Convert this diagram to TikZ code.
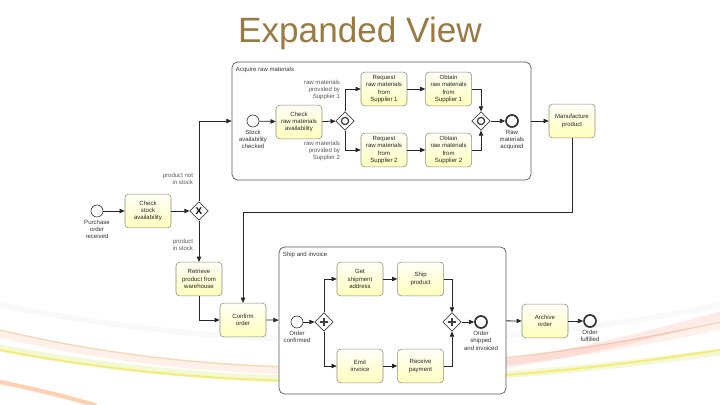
\documentclass[tikz,border=0pt]{standalone}
\usepackage{fontspec}
\setmainfont{Liberation Sans}
\usepackage{tikz}
\usetikzlibrary{arrows.meta,positioning,shapes.geometric}
\definecolor{titlegold}{HTML}{9A7A40}
\definecolor{taskline}{HTML}{8E8C78}
\tikzset{
  task/.style={draw=taskline,rounded corners=2.5pt,top color=yellow!3,bottom color=yellow!26,
               align=center,minimum width=11.5mm,minimum height=8.4mm,inner sep=1pt,
               font=\fontsize{4.3}{5.1}\selectfont,text=black!85},
  subproc/.style={draw=black!65,rounded corners=4pt,fill=white,line width=0.5pt},
  startev/.style={circle,draw=black!80,fill=white,minimum size=3mm,inner sep=0pt,line width=0.45pt},
  endev/.style={startev,line width=1.2pt},
  gate/.style={diamond,draw=black!75,fill=white,minimum size=4.6mm,inner sep=0pt,line width=0.45pt},
  xorgate/.style={gate,font=\bfseries\fontsize{7}{7}\selectfont},
  andgate/.style={gate,path picture={
      \draw[line width=1pt] (path picture bounding box.center) +(-4,0) -- +(4,0)
                            (path picture bounding box.center) +(0,-4) -- +(0,4);}},
  orgate/.style={gate,path picture={
      \draw[line width=0.9pt] (path picture bounding box.center) circle[radius=3.6];}},
  evlabel/.style={font=\fontsize{4.3}{5.1}\selectfont,align=center,text=black!80,inner sep=0.5pt},
  condlabel/.style={evlabel,align=right,text=black!65},
  flow/.style={-{Triangle[length=1.3mm,width=1.1mm]},black!85,line width=0.55pt},
  swoosh/.style={line cap=round,opacity=0.18},
}

\begin{document}
\begin{tikzpicture}[x=0.025cm,y=-0.025cm]
\useasboundingbox (0,0) rectangle (720,405);

% --- background streaks ---
\draw[swoosh,black!20,line width=4pt,opacity=0.12] (0,305) .. controls (200,345) and (450,360) .. (720,305);
\draw[swoosh,orange!60!brown,line width=1pt,opacity=0.3] (0,330) .. controls (220,382) and (460,380) .. (720,322);
\draw[swoosh,pink!70!orange,line width=5pt] (0,334) .. controls (220,386) and (460,384) .. (720,326);
\draw[swoosh,yellow!70!green,line width=5pt] (0,348) .. controls (230,392) and (460,388) .. (720,352);
\draw[swoosh,yellow!80!orange,line width=1.4pt,opacity=0.45] (0,350) .. controls (230,394) and (460,390) .. (720,350);
\draw[swoosh,red!55!pink,line width=6pt,opacity=0.12] (430,372) .. controls (550,362) and (630,340) .. (720,316);
\draw[swoosh,orange!80!red,line width=3pt,opacity=0.3] (0,382) .. controls (40,390) and (70,398) .. (95,405);

\node[font=\fontsize{25}{25}\selectfont,text=titlegold] (title) at (360,33) {Expanded View};

% --- acquire raw materials ---
\node[subproc,minimum width=7.475cm,minimum height=2.95cm] (acq) at (381.5,121) {};
\node[evlabel,anchor=north west] (acqname) at (235,66) {Acquire raw materials};

\node[startev] (stock) at (253,121) {};
\node[evlabel,below=0.4mm of stock] (stocktxt) {Stock\\availability\\checked};
\node[task] (chkraw) at (299,122) {Check\\raw materials\\availability};
\node[orgate] (orsplit) at (345,121) {};
\node[task] (req1) at (384,89) {Request\\raw materials\\from\\Supplier 1};
\node[task,right=4.5mm of req1] (obt1) {Obtain\\raw materials\\from\\Supplier 1};
\node[task] (req2) at (384,150) {Request\\raw materials\\from\\Supplier 2};
\node[task,right=4.5mm of req2] (obt2) {Obtain\\raw materials\\from\\Supplier 2};
\node[orgate] (orjoin) at (481,121) {};
\node[endev] (rawok) at (512,121) {};
\node[evlabel,below=0.4mm of rawok] (rawoktxt) {Raw\\materials\\acquired};
\node[condlabel,anchor=east] (cond1) at (341,90) {raw materials\\provided by\\Supplier 1};
\node[condlabel,anchor=east] (cond2) at (341,151) {raw materials\\provided by\\Supplier 2};

\node[task] (mfg) at (572,121) {Manufacture\\product};

% --- order handling ---
\node[startev] (purch) at (97,211) {};
\node[evlabel,below=0.4mm of purch] (purchtxt) {Purchase\\order\\received};
\node[task] (chkstock) at (148,211) {Check\\stock\\availability};
\node[xorgate] (xgw) at (199,211) {X};
\node[condlabel,anchor=east] (notin) at (194,179) {product not\\in stock};
\node[condlabel,anchor=east] (isin) at (194,245) {product\\in stock};
\node[task] (retr) at (199,279) {Retrieve\\product from\\warehouse};
\node[task] (confirm) at (243,320) {Confirm\\order};

% --- ship and invoice ---
\node[subproc,minimum width=5.675cm,minimum height=3.675cm] (ship) at (392.5,320.5) {};
\node[evlabel,anchor=north west] (shipname) at (282,251) {Ship and invoice};

\node[startev] (ordconf) at (297,322) {};
\node[evlabel,below=0.4mm of ordconf] (ordconftxt) {Order\\confirmed};
\node[andgate] (andsplit) at (324,322) {};
\node[task] (getaddr) at (360,279) {Get\\shipment\\address};
\node[task,right=3.5mm of getaddr] (shipprod) {Ship\\product};
\node[task] (emit) at (360,366) {Emit\\invoice};
\node[task,right=3.5mm of emit] (receive) {Receive\\payment};
\node[andgate] (andjoin) at (452,322) {};
\node[endev] (shipped) at (481,322) {};
\node[evlabel,below=0.4mm of shipped] (shippedtxt) {Order\\shipped\\and invoiced};

\node[task] (archive) at (545,321) {Archive\\order};
\node[endev] (fulfilled) at (590,321) {};
\node[evlabel,below=0.4mm of fulfilled] (fulfilledtxt) {Order\\fulfilled};

\foreach \a/\b in {stock/chkraw, chkraw/orsplit, req1/obt1, req2/obt2, orjoin/rawok, acq/mfg,
                   purch/chkstock, chkstock/xgw, confirm/ship, ordconf/andsplit,
                   getaddr/shipprod, emit/receive, andjoin/shipped, ship/archive, archive/fulfilled}
  \draw[flow] (\a) -- (\b);

\draw[flow] (orsplit.north) |- (req1.west);
\draw[flow] (orsplit.south) |- (req2.west);
\draw[flow] (obt1.east) -| (orjoin.north);
\draw[flow] (obt2.east) -| (orjoin.south);
\draw[flow] (xgw.north) |- (acq.west);
\draw[flow] (xgw.south) -- (retr.north);
\draw[flow] (retr.south) |- (confirm.west);
\coordinate (back) at (572,212);
\draw[flow] (mfg.south) -- (back) -| (confirm.north);
\draw[flow] (andsplit.north) |- (getaddr.west);
\draw[flow] (andsplit.south) |- (emit.west);
\draw[flow] (shipprod.east) -| (andjoin.north);
\draw[flow] (receive.east) -| (andjoin.south);

\end{tikzpicture}
\end{document}
